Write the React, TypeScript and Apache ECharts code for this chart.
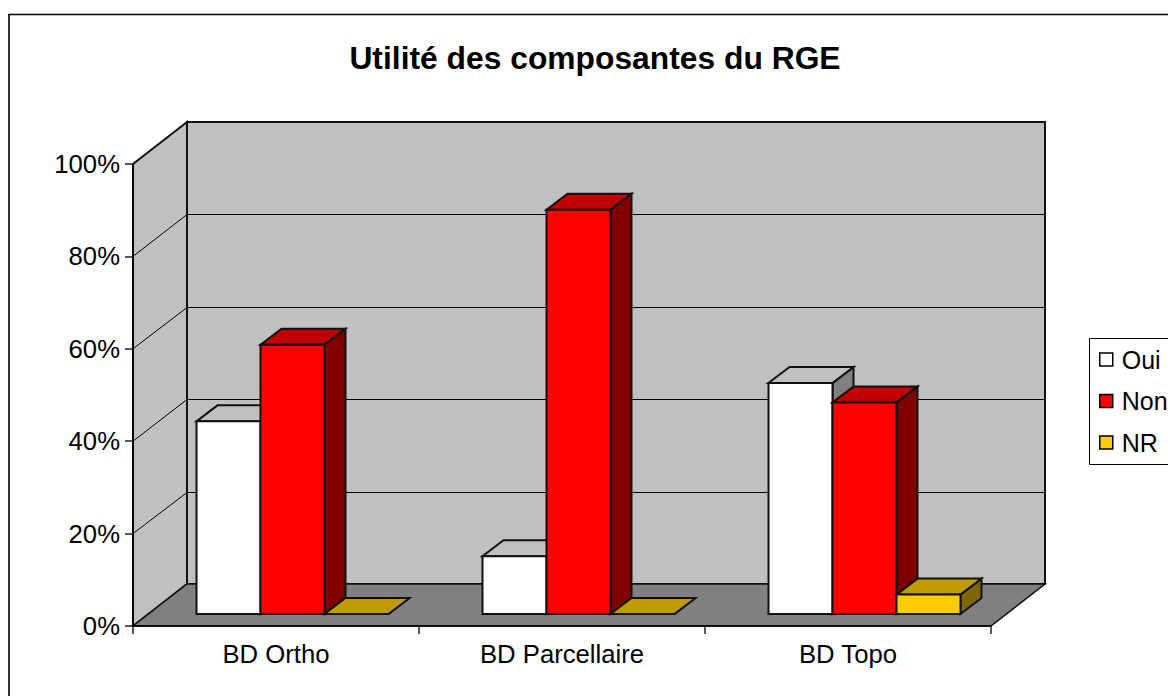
import React, { useEffect, useRef } from "react";
import * as echarts from "echarts";

const categories = ["BD Ortho", "BD Parcellaire", "BD Topo"];
const oui = [41.7, 12.5, 50];
const non = [58.3, 87.5, 45.8];
const nr = [0, 0, 4.2];
const yTicks = [0, 20, 40, 60, 80, 100];
const FONT = "'Liberation Sans', Arial, sans-serif";

const WALL_DX = 54;
const WALL_DY = -42;
const BAR_SHIFT_X = 16.5;
const BAR_SHIFT_Y = -12;
const BAR_DX = 21;
const BAR_DY = -16;
const BAR_FRACTION = 64 / 286;

const poly = (points: number[][], fill: string, lineWidth = 2, stroke = "#111") => ({
  type: "polygon",
  shape: { points },
  style: { fill, stroke, lineWidth, lineJoin: "miter" },
});

const barSeries = (
  name: string,
  values: number[],
  slot: number,
  front: string,
  top: string,
  side: string
) => ({
  name,
  type: "custom",
  coordinateSystem: "cartesian2d",
  clip: false,
  z: 3,
  itemStyle: { color: front },
  data: values.map((v, i) => [i, v]),
  renderItem: (_p: any, api: any) => {
    const cat = api.value(0);
    const val = api.value(1);
    const base = api.coord([cat, 0]);
    const topPt = api.coord([cat, val]);
    const w = api.size([1, 0])[0] * BAR_FRACTION;
    const x0 = base[0] + BAR_SHIFT_X + (slot - 1.5) * w;
    const x1 = x0 + w;
    const y0 = base[1] + BAR_SHIFT_Y;
    const y1 = topPt[1] + BAR_SHIFT_Y;
    return {
      type: "group",
      children: [
        poly([[x1, y0], [x1 + BAR_DX, y0 + BAR_DY], [x1 + BAR_DX, y1 + BAR_DY], [x1, y1]], side),
        poly([[x0, y1], [x1, y1], [x1 + BAR_DX, y1 + BAR_DY], [x0 + BAR_DX, y1 + BAR_DY]], top),
        poly([[x0, y0], [x1, y0], [x1, y1], [x0, y1]], front),
      ],
    };
  },
});

const wallsSeries = {
  name: "walls",
  type: "custom",
  coordinateSystem: "cartesian2d",
  clip: false,
  silent: true,
  z: 1,
  data: [[0, 0]],
  renderItem: (p: any) => {
    const { x, y, width, height } = p.coordSys;
    const b = y + height;
    const r = x + width;
    return {
      type: "group",
      children: [
        poly([[x, y], [x + WALL_DX, y + WALL_DY], [x + WALL_DX, b + WALL_DY], [x, b]], "#c0c0c0", 2),
        poly([[x + WALL_DX, y + WALL_DY], [r + WALL_DX, y + WALL_DY], [r + WALL_DX, b + WALL_DY], [x + WALL_DX, b + WALL_DY]], "#c0c0c0", 2),
        poly([[x, b], [r, b], [r + WALL_DX, b + WALL_DY], [x + WALL_DX, b + WALL_DY]], "#808080", 1.5),
      ],
    };
  },
};

const gridSeries = {
  name: "gridlines",
  type: "custom",
  coordinateSystem: "cartesian2d",
  clip: false,
  silent: true,
  z: 2,
  data: yTicks.slice(1, -1).map((t) => [0, t]),
  renderItem: (p: any, api: any) => {
    const { x, width } = p.coordSys;
    const yy = api.coord([0, api.value(1)])[1];
    const back = Math.round(yy + WALL_DY) + 0.5;
    return {
      type: "polyline",
      shape: {
        points: [[x, yy], [x + WALL_DX, back], [x + width + WALL_DX, back]],
      },
      style: { fill: "none", stroke: "#000", lineWidth: 1 },
    };
  },
};

export default function App() {
  const ref = useRef<HTMLDivElement>(null);
  useEffect(() => {
    const chart = echarts.init(ref.current!, undefined, { renderer: "svg" });
    chart.setOption({
      animation: false,
      backgroundColor: "#fff",
      title: {
        text: "Utilité des composantes du RGE",
        left: 590,
        top: 37,
        textAlign: "center",
        textStyle: { fontFamily: FONT, fontSize: 31.8, fontWeight: "bold", color: "#000" },
      },
      grid: { left: 133, right: 177, top: 164, bottom: 70 },
      xAxis: {
        type: "category",
        data: categories,
        z: 5,
        axisLine: { lineStyle: { color: "#000", width: 1.5 } },
        axisTick: { show: true, length: 8, lineStyle: { color: "#222", width: 1.5 } },
        axisLabel: { fontFamily: FONT, fontSize: 25.7, color: "#000", margin: 15 },
      },
      yAxis: {
        type: "value",
        min: 0,
        max: 100,
        interval: 20,
        z: 5,
        splitLine: { show: false },
        axisLine: { show: true, lineStyle: { color: "#000", width: 2 } },
        axisTick: { show: true, length: 8, lineStyle: { color: "#222", width: 1.5 } },
        axisLabel: { fontFamily: FONT, fontSize: 25.7, color: "#000", margin: 13, formatter: "{value}%" },
      },
      legend: {
        orient: "vertical",
        left: 1099,
        top: 347,
        padding: 0,
        itemWidth: 13,
        itemHeight: 13,
        itemGap: 16.5,
        selectedMode: false,
        icon: "rect",
        textStyle: { fontFamily: FONT, fontSize: 25, color: "#000", padding: [0, 0, 0, 4] },
        data: [
          { name: "Oui", itemStyle: { color: "#fff", borderColor: "#000", borderWidth: 1.5 } },
          { name: "Non", itemStyle: { color: "#f00", borderColor: "#000", borderWidth: 1.5 } },
          { name: "NR", itemStyle: { color: "#ffcc00", borderColor: "#000", borderWidth: 1.5 } },
        ],
      },
      graphic: [
        { type: "line", silent: true, shape: { x1: 9, y1: 14, x2: 9, y2: 696 }, style: { stroke: "#333", lineWidth: 2 } },
        { type: "line", silent: true, shape: { x1: 8, y1: 14.5, x2: 1168, y2: 14.5 }, style: { stroke: "#000", lineWidth: 1.5 } },
        { type: "rect", silent: true, shape: { x: 1089.5, y: 338.5, width: 100, height: 126 }, style: { fill: "none", stroke: "#000", lineWidth: 1 } },
      ],
      series: [
        wallsSeries,
        gridSeries,
        barSeries("Oui", oui, 0, "#ffffff", "#c0c0c0", "#808080"),
        barSeries("Non", non, 1, "#ff0000", "#c00000", "#800000"),
        barSeries("NR", nr, 2, "#ffcc00", "#c09c00", "#806600"),
      ],
    });
    return () => chart.dispose();
  }, []);
  return <div ref={ref} style={{ position: "fixed", left: 0, top: 0, width: 1168, height: 696 }} />;
}
